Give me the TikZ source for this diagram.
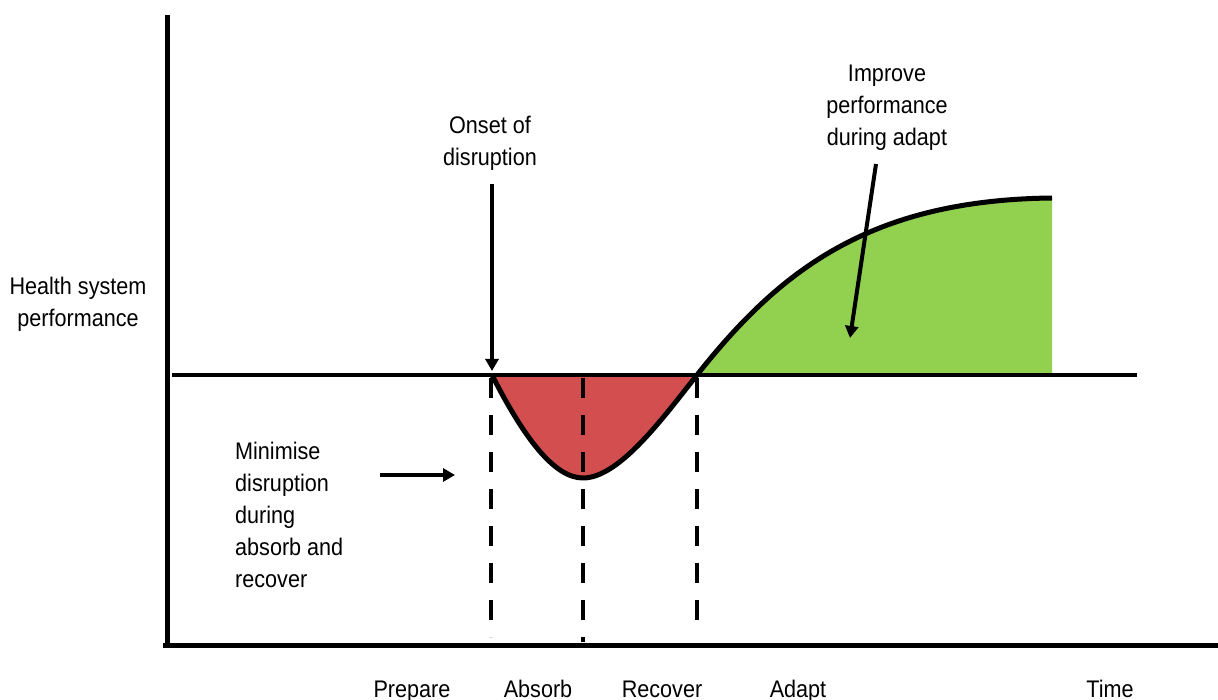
\documentclass[tikz,border=0pt]{standalone}
\usepackage{fontspec}
\setmainfont[FakeStretch=0.9]{Liberation Sans}
\usepackage{xcolor}
\usepackage{tikz}
\usetikzlibrary{positioning, calc, arrows.meta}

\definecolor{lossred}{HTML}{D34F4F}
\definecolor{gaingreen}{HTML}{92D050}

\tikzset{
  lbl/.style={font=\fontsize{24}{32}\selectfont, inner sep=0pt},
  axis/.style={line width=5pt},
  phase/.style={line width=4.5pt, dash pattern=on 20pt off 17pt},
  arr/.style={line width=4pt, -{Triangle[length=12pt,width=13pt]}}
}

\begin{document}
\begin{tikzpicture}[x=1pt, y=-1pt]
        \useasboundingbox (0,0) rectangle (1218,700);

        % Shaded areas under the curve
        \fill[lossred] (492,375) .. controls (525,440) and (555,478) .. (583,478)
          .. controls (620,478) and (665,415) .. (697,375) -- cycle;
        \fill[gaingreen] (697,375) .. controls (780,270) and (870,200) .. (1052,198)
          -- (1052,375) -- cycle;

        % Phase boundaries
        \foreach \x/\yend in {491/637, 583/642, 697/627} {
          \draw[phase] (\x,378) -- (\x,\yend);
        }

        % Axes and baseline
        \draw[axis] (167,15) -- (167,645);
        \draw[axis] (163,645) -- (1218,645);
        \draw[line width=4pt] (172,375) -- (1137,375);

        % Performance curve
        \draw[line width=5pt, line join=round] (492,375) .. controls (525,440) and (555,478) .. (583,478)
          .. controls (620,478) and (665,415) .. (697,375)
          .. controls (780,270) and (870,200) .. (1052,198);

        % Labels
        \node[lbl, align=center, anchor=north] (yaxis) at (78,277) {Health system\\performance};
        \node[lbl, align=center, anchor=north] (onset) at (490,116) {Onset of\\disruption};
        \node[lbl, align=center, anchor=north] (improve) at (887,65) {Improve\\performance\\during adapt};
        \node[lbl, align=left, anchor=north west] (minimise) at (235,442) {Minimise\\disruption\\during\\absorb and\\recover};

        \foreach \x/\name in {412/Prepare, 538/Absorb, 662/Recover, 798/Adapt, 1110/Time} {
          \node[lbl, anchor=base] (\name) at (\x,697) {\name};
        }

        % Pointers
        \coordinate (onsettop) at (492,184);
        \coordinate (onsettip) at (492,371);
        \coordinate (improvetip) at (850,338);
        \coordinate (minimisetip) at (455,475);
        \draw[arr] (onsettop) -- (onsettip);
        \draw[arr] (876,164) -- (improvetip);
        \draw[arr] (380,475) -- (minimisetip);
\end{tikzpicture}
\end{document}
